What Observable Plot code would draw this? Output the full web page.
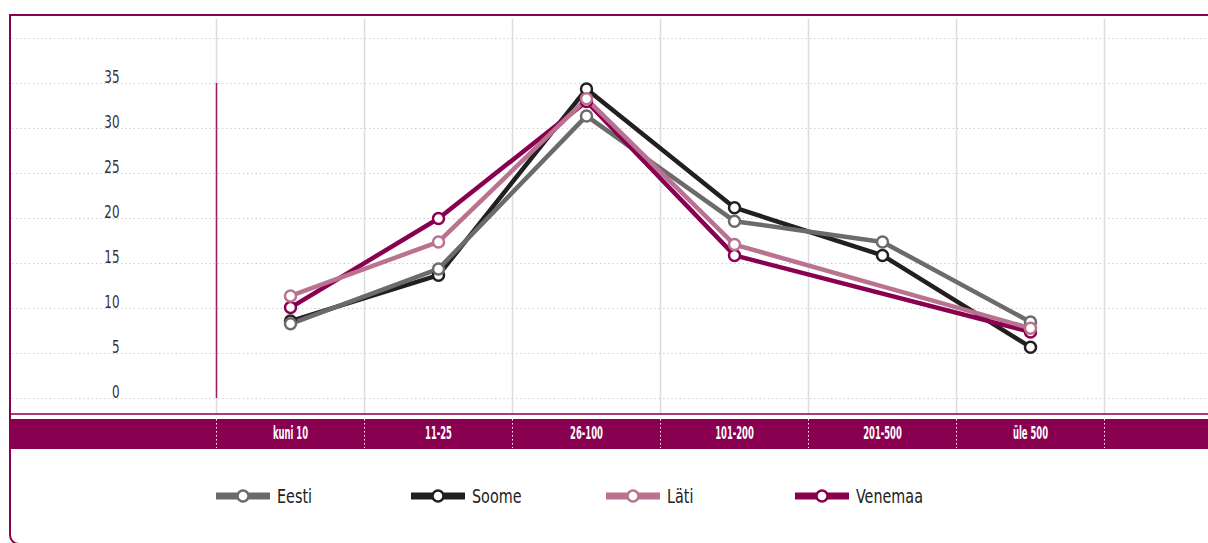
<!DOCTYPE html>
<html><head><meta charset="utf-8">
<script src="https://cdn.jsdelivr.net/npm/d3@7"></script>
<script src="https://cdn.jsdelivr.net/npm/@observablehq/plot@0.6"></script>
<style>
html,body{margin:0;padding:0;background:#fff;width:1208px;height:543px;overflow:hidden;}
body{position:relative;font-family:"Liberation Sans Narrow","DejaVu Sans Condensed",sans-serif;}
#frame{position:absolute;left:9px;top:14px;width:1240px;height:531px;border:2.5px solid #8a0051;border-bottom-left-radius:10px;box-sizing:border-box;}
#strip{position:absolute;left:10px;top:419px;width:1198px;height:30px;background:#8a0051;}
#thin{position:absolute;left:11px;top:413px;width:1197px;height:2px;background:#a83a78;}
#chart{position:absolute;left:0;top:0;}
#legend{position:absolute;left:216px;top:485px;display:flex;}
.item{display:flex;align-items:center;width:195px;}
.item:nth-child(3){width:189px;}
.item span{margin-left:7px;font-size:19px;color:#222;display:inline-block;transform:scaleX(0.84);transform-origin:left center;}
</style></head>
<body>
<div id="frame"></div>
<div id="thin"></div>
<div id="strip"></div>
<div id="chart"></div>
<div id="legend"></div>
<script>
const categories = ["kuni 10", "11-25", "26-100", "101-200", "201-500", "üle 500"];
const seriesNames = ["Eesti", "Soome", "Läti", "Venemaa"];
const seriesColors = ["#6b6b6b", "#231f20", "#b9728f", "#8a0051"];
const eesti = [8.3, 14.4, 31.4, 19.7, 17.4, 8.5];
const soome = [8.6, 13.7, 34.4, 21.2, 15.9, 5.7];
const lati = [11.4, 17.4, 33.3, 17.1, null, 7.8];
const venemaa = [10.1, 20.0, 33.0, 15.9, null, 7.4];
const yTicks = [0, 5, 10, 15, 20, 25, 30, 35];
const gridValues = [0, 5, 10, 15, 20, 25, 30, 35, 40];

const valuesBySeries = {"Eesti": eesti, "Soome": soome, "Läti": lati, "Venemaa": venemaa};
const drawOrder = ["Soome", "Eesti", "Venemaa", "Läti"];
const rows = [];
for (const s of drawOrder) {
  valuesBySeries[s].forEach((v, i) => { if (v != null) rows.push({series: s, cat: categories[i], value: v}); });
}

const FONT = '"Liberation Sans Narrow","DejaVu Sans Condensed",sans-serif';
const ruleGray = {stroke: "#dcdcdc", strokeWidth: 1.5, insetTop: -19, insetBottom: -15};
const ruleWhite = {stroke: "white", strokeWidth: 1, strokeDasharray: "1.5,2.5", insetTop: 381, insetBottom: -50};

const chart = Plot.plot({
  width: 1208, height: 450,
  marginLeft: 216, marginRight: 104, marginTop: 38, marginBottom: 52,
  style: {background: "transparent", overflow: "visible", fontFamily: FONT},
  x: {type: "point", domain: categories, padding: 0.5},
  y: {domain: [0, 40]},
  color: {domain: seriesNames, range: seriesColors},
  marks: [
    Plot.ruleY(gridValues, {stroke: "#c4c4c4", strokeWidth: 1, strokeDasharray: "1.2,3", insetLeft: -204, insetRight: -104}),
    Plot.ruleX(categories, {...ruleGray, dx: -74}),
    Plot.ruleX(categories.slice(-1), {...ruleGray, dx: 74}),
    Plot.ruleX(categories, {...ruleWhite, dx: -74}),
    Plot.ruleX(categories.slice(-1), {...ruleWhite, dx: 74}),
    Plot.ruleX(categories.slice(0, 1), {dx: -74, y1: 0, y2: 35, stroke: "#9b1d63", strokeWidth: 1.5}),
    Plot.axisY(yTicks, {tickSize: 0, tickPadding: 97, dy: -6, fontSize: 17, color: "#333", label: null}),
    Plot.axisX({tickSize: 0, tickPadding: 28, fontSize: 18, fontWeight: "bold", color: "white", label: null}),
    Plot.line(rows, {x: "cat", y: "value", z: "series", stroke: "series", strokeWidth: 4.5}),
    Plot.dot(rows, {x: "cat", y: "value", stroke: "series", fill: "white", r: 5.5, strokeWidth: 2.5})
  ]
});
document.getElementById("chart").appendChild(chart);

// condense the axis labels (the reference uses a narrow typeface)
function squeeze(sel, k) {
  d3.select(chart).selectAll(sel).each(function () {
    const w = this.getComputedTextLength();
    if (w > 0) { this.setAttribute("textLength", (w * k).toFixed(1)); this.setAttribute("lengthAdjust", "spacingAndGlyphs"); }
  });
}
squeeze('g[aria-label="x-axis tick label"] text', 0.52);
squeeze('g[aria-label="y-axis tick label"] text', 0.78);

const legend = document.getElementById("legend");
seriesNames.forEach((name, i) => {
  const item = document.createElement("div");
  item.className = "item";
  item.innerHTML = `<svg width="54" height="14"><line x1="0" x2="54" y1="7" y2="7" stroke="${seriesColors[i]}" stroke-width="7"/><circle cx="27" cy="7" r="5.5" fill="white" stroke="${seriesColors[i]}" stroke-width="2.5"/></svg><span>${name}</span>`;
  legend.appendChild(item);
});
</script>
</body></html>
